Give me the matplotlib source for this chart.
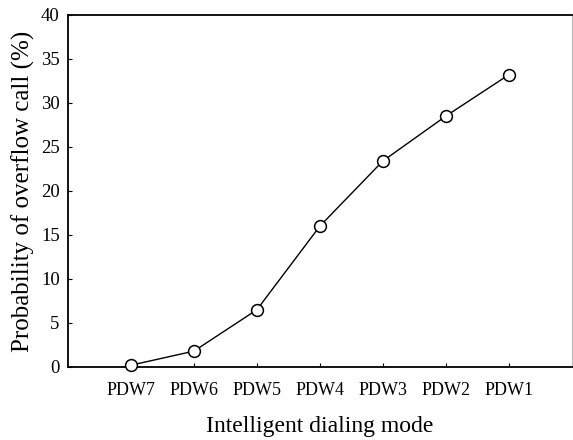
import matplotlib
matplotlib.use("Agg")
import matplotlib.pyplot as plt

modes = ["PDW7", "PDW6", "PDW5", "PDW4", "PDW3", "PDW2", "PDW1"]
overflow_prob = [0.2, 1.8, 6.5, 16.0, 23.4, 28.5, 33.2]
y_ticks = [0, 5, 10, 15, 20, 25, 30, 35, 40]

plt.rcParams['font.family'] = ['Liberation Serif', 'DejaVu Serif']

fig = plt.figure(figsize=(5.73, 4.4), dpi=100)
ax = fig.add_axes([0.1187, 0.166, 0.879, 0.8])

x = list(range(1, len(modes) + 1))
ax.plot(x, overflow_prob, color='black', linewidth=1.0, marker='o',
        markersize=8.5, markerfacecolor='white', markeredgecolor='black',
        markeredgewidth=1.1, clip_on=False, zorder=3)

ax.set_xlim(0, 8)
ax.set_ylim(0, 40)
ax.set_xticks(x)
ax.set_xticklabels(modes)
ax.set_yticks(y_ticks)
ax.tick_params(direction='in', length=3, width=0.8, labelsize=13)
ax.tick_params(axis='x', pad=11)
ax.tick_params(axis='y', pad=6, labelsize=13.5)

for s in ['left', 'bottom', 'top']:
    ax.spines[s].set_linewidth(1.3)
    ax.spines[s].set_color('black')
ax.spines['right'].set_color('#bbbbbb')
ax.spines['right'].set_linewidth(0.8)

ax.set_xlabel("Intelligent dialing mode", fontsize=17, labelpad=12)
ax.set_ylabel("Probability of overflow call (%)", fontsize=18, labelpad=4)

fig.savefig("out.png", dpi=100)
